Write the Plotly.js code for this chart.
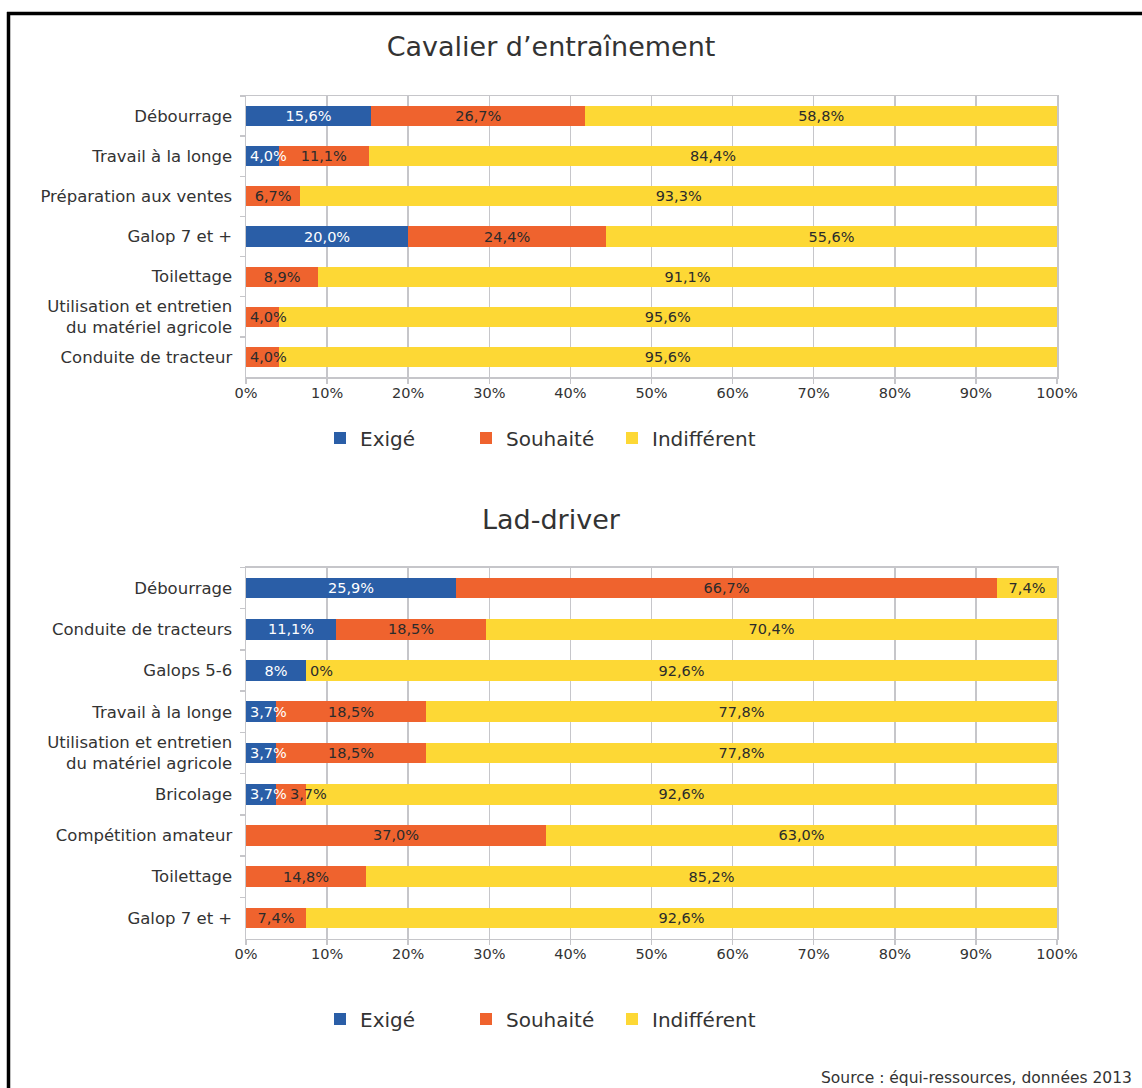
<!DOCTYPE html>
<html>
<head>
<meta charset="utf-8">
<script src="https://cdn.plot.ly/plotly-3.0.1.min.js"></script>
<style>
  html, body { margin: 0; padding: 0; background: #ffffff; }
  #chart { width: 1142px; height: 1088px; }
</style>
</head>
<body>
<div id="chart"></div>
<script>
// ---------- Data: Cavalier d'entraînement ----------
const cats1 = [
  "Débourrage",
  "Travail à la longe",
  "Préparation aux ventes",
  "Galop 7 et +",
  "Toilettage",
  "Utilisation et entretien<br>du matériel agricole",
  "Conduite de tracteur"
];
const exige1     = [15.6, 4.0, 0, 20.0, 0, 0, 0];
const souhaite1  = [26.7, 11.1, 6.7, 24.4, 8.9, 4.0, 4.0];
const indiff1    = [58.8, 84.4, 93.3, 55.6, 91.1, 95.6, 95.6];
const exige1Lab    = ["15,6%", "4,0%", "", "20,0%", "", "", ""];
const souhaite1Lab = ["26,7%", "11,1%", "6,7%", "24,4%", "8,9%", "4,0%", "4,0%"];
const indiff1Lab   = ["58,8%", "84,4%", "93,3%", "55,6%", "91,1%", "95,6%", "95,6%"];

// ---------- Data: Lad-driver ----------
const cats2 = [
  "Débourrage",
  "Conduite de tracteurs",
  "Galops 5-6",
  "Travail à la longe",
  "Utilisation et entretien<br>du matériel agricole",
  "Bricolage",
  "Compétition amateur",
  "Toilettage",
  "Galop 7 et +"
];
const exige2     = [25.9, 11.1, 7.4, 3.7, 3.7, 3.7, 0, 0, 0];
const souhaite2  = [66.7, 18.5, 0, 18.5, 18.5, 3.7, 37.0, 14.8, 7.4];
const indiff2    = [7.4, 70.4, 92.6, 77.8, 77.8, 92.6, 63.0, 85.2, 92.6];
const exige2Lab    = ["25,9%", "11,1%", "8%", "3,7%", "3,7%", "3,7%", "", "", ""];
const souhaite2Lab = ["66,7%", "18,5%", "0%", "18,5%", "18,5%", "3,7%", "37,0%", "14,8%", "7,4%"];
const indiff2Lab   = ["7,4%", "70,4%", "92,6%", "77,8%", "77,8%", "92,6%", "63,0%", "85,2%", "92,6%"];

const seriesNames = ["Exigé", "Souhaité", "Indifférent"];
const tickVals = [0, 10, 20, 30, 40, 50, 60, 70, 80, 90, 100];
const tickLabels = ["0%", "10%", "20%", "30%", "40%", "50%", "60%", "70%", "80%", "90%", "100%"];

// ---------- Styles ----------
const COLORS = ["#2a5ea7", "#ef632e", "#fdd835"];
const TEXTCOL = ["#ffffff", "#2b2b2b", "#2b2b2b"];
const FONT = "DejaVu Sans, Verdana, sans-serif";
const GRID = "#c6c6ca";
const W = 1142, H = 1088;
const X0 = 246, X1 = 1057;
const LABEL_SIZE = 14.5;
const px = v => v / W;
const py = v => 1 - v / H;

// rough text width estimate (for deciding whether a label fits its segment)
function textWidth(s, size) {
  let w = 0;
  for (const ch of s) {
    if (/[0-9]/.test(ch)) w += 0.636;
    else if (ch === ",") w += 0.318;
    else if (ch === "%") w += 0.95;
    else w += 0.6;
  }
  return w * size;
}

const annotations = [];

// Builds the 3 stacked traces of one chart; labels wider than their segment
// are drawn left-aligned from the segment start (as in the original chart).
function makeTraces(cats, vals, labs, xa, ya, legendId) {
  const pxPerUnit = (X1 - X0) / 100;
  const positions = vals.map(() => cats.map(() => "inside"));
  cats.forEach((c, k) => {
    const tot = vals.reduce((s, v) => s + v[k], 0);
    let cum = 0, cursor = -1e9;
    vals.forEach((v, i) => {
      const startPx = cum / tot * 100 * pxPerUnit;
      const segPx = v[k] / tot * 100 * pxPerUnit;
      const lab = labs[i][k];
      if (lab) {
        const tw = textWidth(lab, LABEL_SIZE);
        if (tw + 4 > segPx) {
          positions[i][k] = "none";
          const left = Math.max(startPx + 2, cursor + 3);
          cursor = left + tw;
          annotations.push({
            xref: xa, yref: ya, x: left / pxPerUnit, y: c,
            text: lab, showarrow: false, xanchor: "left", yanchor: "middle",
            font: { family: FONT, size: LABEL_SIZE, color: TEXTCOL[i] }
          });
        } else {
          cursor = startPx + segPx / 2 + tw / 2;
        }
      } else {
        positions[i][k] = "none";
      }
      cum += v[k];
    });
  });
  return vals.map((v, i) => ({
    type: "bar",
    orientation: "h",
    name: seriesNames[i],
    y: cats,
    x: v,
    text: labs[i],
    textposition: positions[i],
    insidetextanchor: "middle",
    constraintext: "none",
    textangle: 0,
    cliponaxis: false,
    textfont: { family: FONT, size: LABEL_SIZE, color: TEXTCOL[i] },
    marker: { color: COLORS[i], line: { width: 0 } },
    xaxis: xa,
    yaxis: ya,
    legend: legendId,
    hoverinfo: "skip"
  }));
}

const traces = [
  ...makeTraces(cats1, [exige1, souhaite1, indiff1], [exige1Lab, souhaite1Lab, indiff1Lab], "x", "y", "legend"),
  ...makeTraces(cats2, [exige2, souhaite2, indiff2], [exige2Lab, souhaite2Lab, indiff2Lab], "x2", "y2", "legend2")
];

annotations.push({
  xref: "paper", yref: "paper", x: px(551), y: py(519),
  text: "Lad-driver", showarrow: false, xanchor: "center", yanchor: "middle",
  font: { family: FONT, size: 27, color: "#333333" }
});
annotations.push({
  xref: "paper", yref: "paper", x: px(1134), y: py(1078),
  text: "Source : équi-ressources, données 2013", showarrow: false,
  xanchor: "right", yanchor: "middle",
  font: { family: FONT, size: 15.5, color: "#333333" }
});

function xAxis(anchor) {
  return {
    domain: [px(X0), px(X1)],
    anchor: anchor,
    range: [0, 100],
    tickmode: "array",
    tickvals: tickVals,
    ticktext: tickLabels,
    showgrid: true, gridcolor: GRID, gridwidth: 1.5,
    showline: true, linecolor: GRID, linewidth: 1.5, mirror: true,
    ticks: "outside", ticklen: 5, tickcolor: GRID, tickwidth: 1.5,
    ticklabelstandoff: -3,
    tickfont: { family: FONT, size: 14.5, color: "#333333" },
    zeroline: false, fixedrange: true, automargin: false
  };
}
function yAxis(anchor, top, bottom) {
  return {
    domain: [py(bottom), py(top)],
    anchor: anchor,
    type: "category",
    autorange: "reversed",
    showgrid: false,
    showline: true, linecolor: GRID, linewidth: 1.5, mirror: true,
    ticks: "outside", tickson: "boundaries", ticklen: 5, tickcolor: GRID, tickwidth: 1.5,
    ticklabelstandoff: 9,
    tickfont: { family: FONT, size: 16.5, color: "#333333" },
    zeroline: false, fixedrange: true, automargin: false
  };
}

const legendBase = {
  orientation: "h",
  xanchor: "left",
  yanchor: "middle",
  entrywidth: 101,
  entrywidthmode: "pixels",
  font: { family: FONT, size: 20, color: "#333333" },
  bgcolor: "rgba(0,0,0,0)",
  traceorder: "normal"
};

const layout = {
  width: W, height: H,
  margin: { l: 0, r: 0, t: 0, b: 0 },
  paper_bgcolor: "#ffffff",
  plot_bgcolor: "#ffffff",
  barmode: "stack",
  barnorm: "percent",
  bargap: 0.5,
  showlegend: true,
  title: {
    text: "Cavalier d’entraînement",
    x: px(551), xanchor: "center",
    y: py(47), yanchor: "middle",
    font: { family: FONT, size: 27, color: "#333333" }
  },
  xaxis: xAxis("y"),
  yaxis: yAxis("x", 96, 377),
  xaxis2: xAxis("y2"),
  yaxis2: yAxis("x2", 567.5, 938.5),
  legend: Object.assign({}, legendBase, { x: px(320), y: py(438) }),
  legend2: Object.assign({}, legendBase, { x: px(320), y: py(1019) }),
  annotations: annotations,
  shapes: [
    { type: "line", xref: "paper", yref: "paper", x0: px(7), x1: 1, y0: py(13.5), y1: py(13.5),
      line: { color: "#000000", width: 3.5 } },
    { type: "line", xref: "paper", yref: "paper", x0: px(8.5), x1: px(8.5), y0: py(12), y1: 0,
      line: { color: "#000000", width: 3.5 } }
  ]
};

Plotly.newPlot("chart", traces, layout, { displayModeBar: false, staticPlot: true });
</script>
</body>
</html>
